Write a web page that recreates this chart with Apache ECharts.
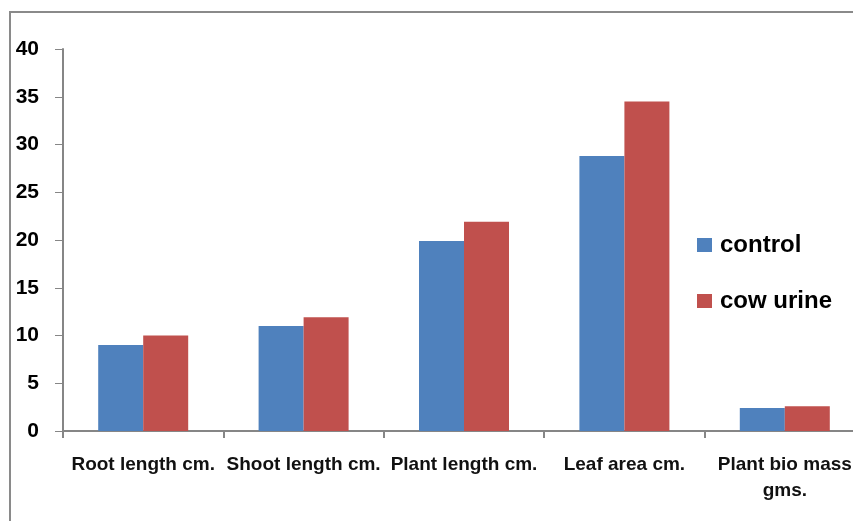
<!DOCTYPE html>
<html>
<head>
<meta charset="utf-8">
<script src="https://cdn.jsdelivr.net/npm/echarts@6/dist/echarts.min.js"></script>
<style>
html,body{margin:0;padding:0;background:#fff;}
#c{width:853px;height:521px;}
</style>
</head>
<body>
<div id="c"></div>
<script>
var categories = ['Root length cm.', 'Shoot length cm.', 'Plant length cm.', 'Leaf area cm.', 'Plant bio mass\ngms.'];
var seriesNames = ['control', 'cow urine'];
var controlValues = [9, 11, 19.9, 28.8, 2.4];
var cowUrineValues = [10, 11.9, 21.9, 34.5, 2.6];
var yTicks = [0, 5, 10, 15, 20, 25, 30, 35, 40];

var chart = echarts.init(document.getElementById('c'), null, {renderer: 'canvas'});
var axisGray = '#868686';
chart.setOption({
  animation: false,
  backgroundColor: '#fff',
  graphic: [{
    type: 'rect',
    shape: {x: 10, y: 12, width: 1000, height: 1000},
    style: {fill: 'none', stroke: '#8a8a8a', lineWidth: 2},
    silent: true
  }],
  grid: {left: 63, top: 49, width: 802, height: 382, outerBoundsMode: 'none'},
  legend: {
    orient: 'vertical',
    left: 697,
    top: 233,
    padding: 0,
    itemWidth: 15,
    itemHeight: 14,
    itemGap: 32,
    icon: 'rect',
    data: seriesNames,
    textStyle: {fontFamily: 'Liberation Sans', fontSize: 24, fontWeight: 'bold', color: '#000', lineHeight: 24, padding: [0, 0, 0, 3]}
  },
  xAxis: {
    type: 'category',
    data: categories,
    axisLine: {lineStyle: {color: axisGray, width: 2}},
    axisTick: {show: true, length: 7, lineStyle: {color: axisGray, width: 2}},
    axisLabel: {interval: 0, margin: 21, fontFamily: 'Liberation Sans', fontSize: 19, fontWeight: 'bold', color: '#111', lineHeight: 26}
  },
  yAxis: {
    type: 'value',
    min: yTicks[0],
    max: yTicks[yTicks.length - 1],
    interval: 5,
    splitLine: {show: false},
    axisLine: {show: true, lineStyle: {color: axisGray, width: 2}},
    axisTick: {show: true, length: 8, lineStyle: {color: axisGray, width: 1}},
    axisLabel: {margin: 24, fontFamily: 'Liberation Sans', fontSize: 21, fontWeight: 'bold', color: '#000'}
  },
  series: [
    {name: seriesNames[0], type: 'bar', data: controlValues, barWidth: 45, barGap: '0%', itemStyle: {color: '#4F81BD'}},
    {name: seriesNames[1], type: 'bar', data: cowUrineValues, barWidth: 45, barGap: '0%', itemStyle: {color: '#C0504D'}}
  ]
});
</script>
</body>
</html>
